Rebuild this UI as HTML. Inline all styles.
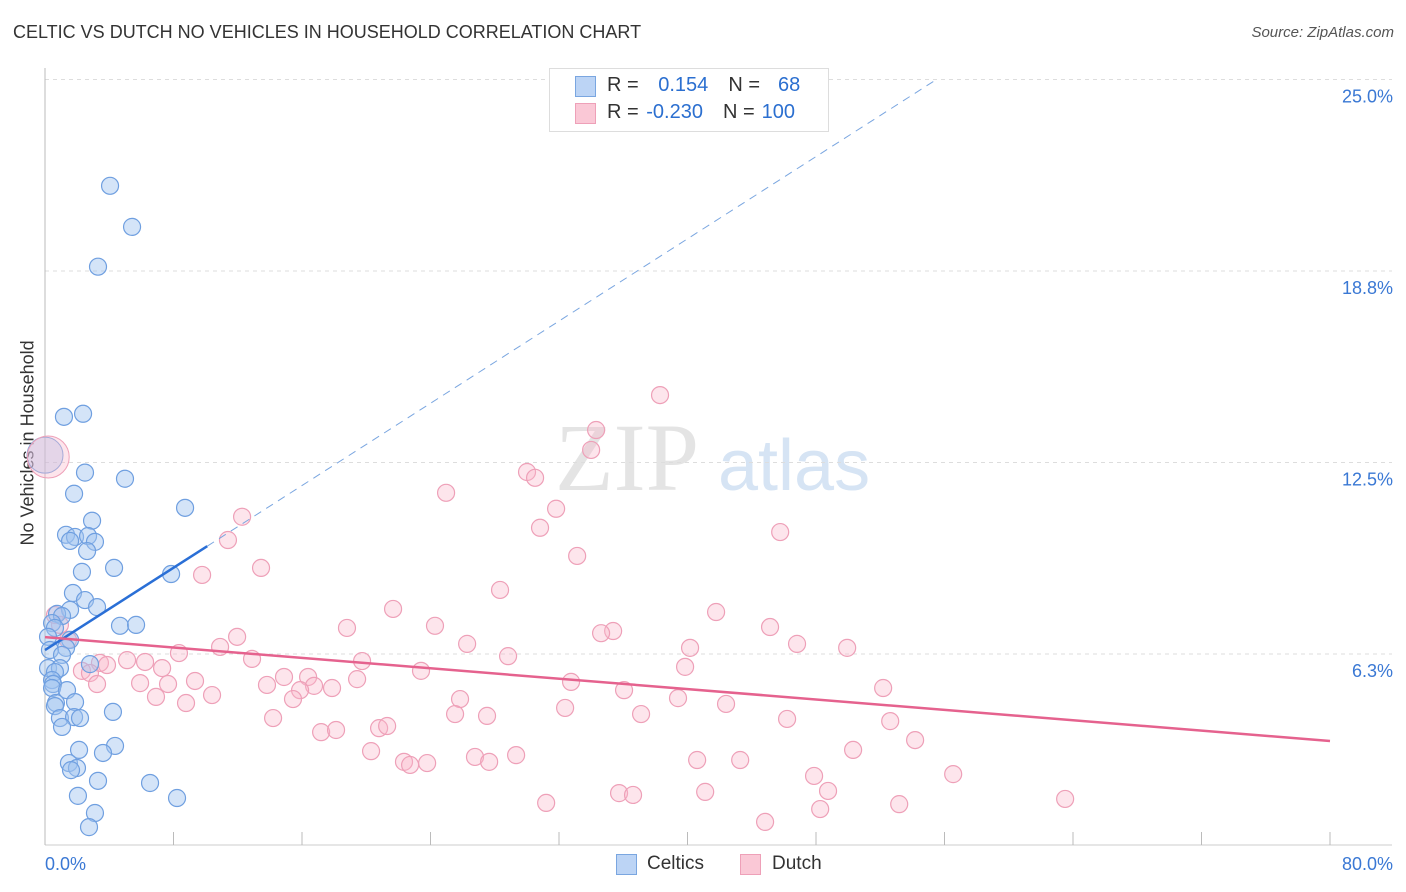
<!DOCTYPE html>
<html><head><meta charset="utf-8"><style>
body{margin:0;background:#fff;font-family:"Liberation Sans",sans-serif}
#w{position:relative;width:1406px;height:892px;overflow:hidden}
.t{position:absolute;white-space:nowrap}
</style></head><body>
<div id="w">
<div class="t" style="left:13px;top:22px;font-size:18px;color:#333">CELTIC VS DUTCH NO VEHICLES IN HOUSEHOLD CORRELATION CHART</div>
<div class="t" style="right:12px;top:24px;font-size:15px;color:#555;font-style:italic">Source: ZipAtlas.com</div>
<div class="t" style="left:-62px;top:445px;font-size:18px;color:#333;transform:rotate(-90deg);width:180px;text-align:center">No Vehicles in Household</div>
<svg id="s" width="1406" height="892" style="position:absolute;left:0;top:0">
<text x="555" y="490" font-size="96" font-family="Liberation Serif,serif" fill="#e4e4e4">ZIP</text>
<text x="718" y="490" font-size="72" font-family="Liberation Sans,sans-serif" fill="#d6e4f4">atlas</text>
</svg>
<div style="position:absolute;left:549px;top:68px;width:278px;height:62px;border:1px solid #ddd;background:#fff"></div>
<div style="position:absolute;left:575px;top:76px;width:19px;height:19px;background:#bcd4f5;border:1px solid #7aa6e0"></div>
<div style="position:absolute;left:575px;top:103px;width:19px;height:19px;background:#fac8d6;border:1px solid #eea0b8"></div>
<div class="t" style="left:607px;top:74px;font-size:20px;color:#333">R = <span style="color:#2b6fd0;margin-left:14px">0.154</span><span style="margin-left:20px">N =</span><span style="color:#2b6fd0;margin-left:18px">68</span></div>
<div class="t" style="left:607px;top:101px;font-size:20px;color:#333">R = <span style="color:#2b6fd0;margin-left:2px">-0.230</span><span style="margin-left:20px">N =</span><span style="color:#2b6fd0;margin-left:7px">100</span></div>
<div style="position:absolute;left:616px;top:854px;width:19px;height:19px;background:#bcd4f5;border:1px solid #7aa6e0"></div>
<div class="t" style="left:647px;top:853px;font-size:19px;color:#333">Celtics</div>
<div style="position:absolute;left:740px;top:854px;width:19px;height:19px;background:#fac8d6;border:1px solid #eea0b8"></div>
<div class="t" style="left:772px;top:853px;font-size:19px;color:#333">Dutch</div>
</div>
<script>
const yTicks=[25,18.75,12.5,6.25];
const yTickLabels=["25.0%","18.8%","12.5%","6.3%"];
const xTickVals=[0,8,16,24,32,40,48,56,64,72,80];
const xEndLabels=["0.0%","80.0%"];
const celticsX=[4.05,5.42,3.30,1.18,2.37,2.49,4.98,1.81,8.72,2.93,1.31,1.87,1.56,2.68,3.11,2.62,4.30,2.30,7.85,1.74,2.49,1.56,3.24,4.67,5.67,0.75,1.06,0.44,0.62,0.19,1.56,1.31,0.31,1.06,2.80,0.19,0.93,0.62,0.44,0.50,0.44,1.37,0.68,1.87,0.62,0.93,1.81,2.18,1.06,4.23,2.12,4.36,3.61,1.49,1.99,1.62,3.30,6.54,2.05,8.22,3.11,2.74];
const celticsY=[21.53,20.19,18.89,13.99,14.09,12.17,11.97,11.48,11.02,10.60,10.14,10.07,9.94,10.10,9.91,9.61,9.06,8.93,8.86,8.24,8.01,7.69,7.78,7.17,7.20,7.56,7.49,7.26,7.10,6.81,6.71,6.45,6.38,6.22,5.92,5.79,5.79,5.66,5.40,5.27,5.14,5.07,4.65,4.68,4.55,4.16,4.19,4.16,3.87,4.36,3.12,3.25,3.02,2.69,2.53,2.46,2.11,2.04,1.62,1.55,1.06,0.60];
const dutchX=[38.29,34.31,34.00,24.97,30.01,30.51,31.82,30.82,12.27,11.39,45.77,33.13,9.78,13.45,28.33,21.67,41.78,18.80,24.28,35.37,34.62,45.14,11.96,26.28,46.82,40.16,49.94,10.90,8.34,12.89,28.83,19.74,0.62,0.93,1.43,3.42,5.11,6.23,3.86,7.29,2.30,2.80,5.92,7.66,3.24,9.34,14.88,16.38,13.82,16.75,15.88,17.87,19.43,23.41,32.75,39.85,6.91,8.78,10.40,15.44,25.84,36.05,39.41,52.18,32.38,42.40,25.53,27.52,37.11,14.20,46.20,52.62,17.19,18.12,20.80,21.30,54.17,50.31,20.30,26.77,29.33,22.35,22.73,23.79,27.65,40.60,43.28,56.54,47.88,48.75,35.74,36.61,41.10,31.20,53.18,63.51,48.26,44.83];
const dutchY=[14.70,13.56,12.91,11.51,12.19,12.00,10.99,10.37,10.73,9.97,10.23,9.45,8.83,9.06,8.34,7.72,7.62,7.10,7.17,7.00,6.93,7.13,6.81,6.58,6.58,6.45,6.45,6.48,6.28,6.09,6.18,6.02,7.52,7.20,6.71,5.96,6.05,5.99,5.89,5.79,5.70,5.63,5.30,5.27,5.27,5.37,5.50,5.50,5.24,5.21,5.07,5.14,5.43,5.70,5.34,5.83,4.85,4.65,4.91,4.78,4.78,5.07,4.81,5.14,4.49,4.62,4.29,4.23,4.29,4.16,4.13,4.06,3.70,3.77,3.83,3.90,3.44,3.12,3.08,2.89,2.95,2.73,2.63,2.69,2.73,2.79,2.79,2.33,2.27,1.78,1.71,1.65,1.75,1.39,1.35,1.52,1.19,0.77];
const bigPoints=[[0,12.74,"celtics"],[0.2,12.68,"dutch"]];
const celticsTrend=[6.38,0.3355,10.1];   // intercept, slope, solid-end x
const dutchTrend=[6.80,3.41];             // y at 0%, y at 80%
const X=v=>45+v*1285/80, Y=v=>845.5-v*30.64;
const s=document.getElementById('s'),NS='http://www.w3.org/2000/svg';
function mk(t,a){const e=document.createElementNS(NS,t);for(const k in a)e.setAttribute(k,a[k]);s.appendChild(e);return e;}
yTicks.forEach((v,i)=>{
 const g=mk('line',{x1:45,x2:1392,y1:Y(v),y2:Y(v),stroke:'#ddd','stroke-dasharray':'4,4'});
 
 
 const t=mk('text',{x:1393,y:Y(v)+23,'text-anchor':'end','font-size':18,fill:'#3a78d4','font-family':'Liberation Sans,sans-serif'});
 t.textContent=yTickLabels[i];
 
 
});
let ax=mk('line',{x1:45,x2:45,y1:68,y2:845,stroke:'#bbb'});


let bx=mk('line',{x1:45,x2:1392,y1:845,y2:845,stroke:'#ccc'});


xTickVals.forEach(v=>{const l=mk('line',{x1:X(v),x2:X(v),y1:832,y2:845,stroke:'#bbb'});
 
 });
[[0,'start',45],[80,'end',1393]].forEach((d,i)=>{const t=mk('text',{x:d[2],y:870,'text-anchor':d[1],'font-size':18,fill:'#3a78d4','font-family':'Liberation Sans,sans-serif'});
 t.textContent=xEndLabels[i];
 
 });
function dots(xs,ys,fill,stroke,name){xs.forEach((x,i)=>{const c=mk('circle',{cx:X(x),cy:Y(ys[i]),r:8.5,fill:fill,stroke:stroke,'stroke-width':1.2});
 
 });}
bigPoints.forEach(p=>{const c=mk('circle',{cx:X(p[0]),cy:Y(p[1]),r:p[2]=='dutch'?21:18,fill:p[2]=='dutch'?'rgba(248,180,200,0.35)':'rgba(160,196,240,0.4)',stroke:p[2]=='dutch'?'#eea0b8':'#7aa6e0'});
 
 });
dots(dutchX,dutchY,'rgba(248,180,200,0.35)','#eea0b8','dutch-point');
dots(celticsX,celticsY,'rgba(160,196,240,0.45)','#6f9fe0','celtics-point');
const bt=x=>celticsTrend[0]+celticsTrend[1]*x;
let l1=mk('line',{x1:X(0),y1:Y(bt(0)),x2:X(celticsTrend[2]),y2:Y(bt(celticsTrend[2])),stroke:'#2a6fd6','stroke-width':2.5});


let l2=mk('line',{x1:X(celticsTrend[2]),y1:Y(bt(celticsTrend[2])),x2:X((25-celticsTrend[0])/celticsTrend[1]),y2:Y(25),stroke:'#7aa6e0','stroke-width':1,'stroke-dasharray':'8,6'});


let l3=mk('line',{x1:X(0),y1:Y(dutchTrend[0]),x2:X(80),y2:Y(dutchTrend[1]),stroke:'#e5628e','stroke-width':2.5});


</script>
</body></html>
